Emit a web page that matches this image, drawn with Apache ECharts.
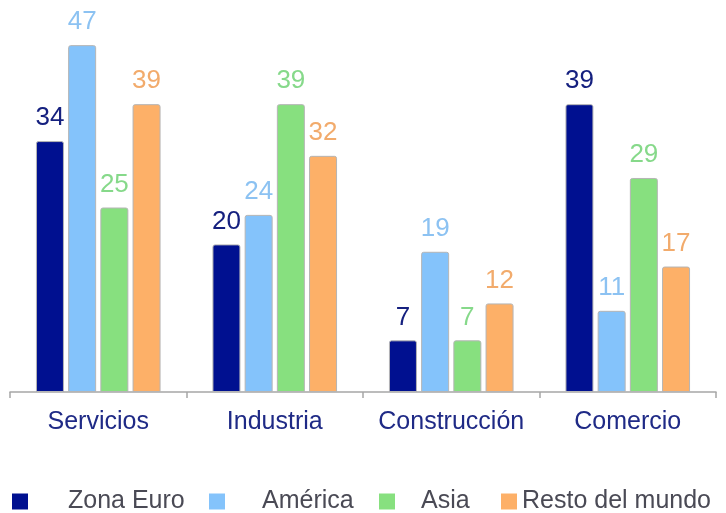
<!DOCTYPE html>
<html>
<head>
<meta charset="utf-8">
<script src="https://cdn.jsdelivr.net/npm/echarts@6/dist/echarts.min.js"></script>
<style>html,body{margin:0;padding:0;background:#fff}#c{width:726px;height:513px}</style>
</head>
<body>
<div id="c"></div>
<script>
const categories = ['Servicios', 'Industria', 'Construcción', 'Comercio'];
const seriesNames = ['Zona Euro', 'América', 'Asia', 'Resto del mundo'];
const zonaEuro = [34, 20, 7, 39];
const america = [47, 24, 19, 11];
const asia = [25, 39, 7, 29];
const resto = [39, 32, 12, 17];

const values = [zonaEuro, america, asia, resto];
const barColors = ['#001090', '#84C3FB', '#87E07F', '#FDB068'];
const labelColors = ['#15207f', '#8cc2f2', '#86d98a', '#f2ab6c'];
const FONT = '"Liberation Sans", Arial, sans-serif';

const chart = echarts.init(document.getElementById('c'));
const legendLefts = [12, 209, 379, 501];
const legendPads = [35, 32, 21, 0];

chart.setOption({
  animation: false,
  grid: { left: 10, right: 10, top: 23, bottom: 121 },
  xAxis: {
    type: 'category',
    data: categories,
    axisLine: { lineStyle: { color: '#a6a6a6', width: 1.5 } },
    axisTick: { show: true, interval: 0, length: 6, lineStyle: { color: '#a6a6a6', width: 1.5 } },
    axisLabel: { interval: 0, color: '#1f2a86', fontSize: 25, fontFamily: FONT, margin: 18 }
  },
  yAxis: { type: 'value', min: 0, max: 50, show: false, splitLine: { show: false } },
  legend: seriesNames.map((n, i) => ({
    data: [n],
    left: legendLefts[i],
    top: 489,
    itemWidth: 16,
    itemHeight: 16,
    icon: 'rect',
    padding: 0,
    itemStyle: { borderWidth: 0 },
    textStyle: { color: '#4a4a55', fontSize: 25, fontFamily: FONT, padding: [0, 0, 0, legendPads[i]] }
  })),
  series: seriesNames.map((n, i) => ({
    name: n,
    type: 'bar',
    data: values[i],
    barWidth: 28,
    barGap: '15%',
    itemStyle: { color: barColors[i], borderColor: '#b5b5b5', borderWidth: 1, borderRadius: [2, 2, 0, 0] },
    label: { show: true, position: 'top', distance: 10, color: labelColors[i], fontSize: 26, fontFamily: FONT }
  }))
});
</script>
</body>
</html>
